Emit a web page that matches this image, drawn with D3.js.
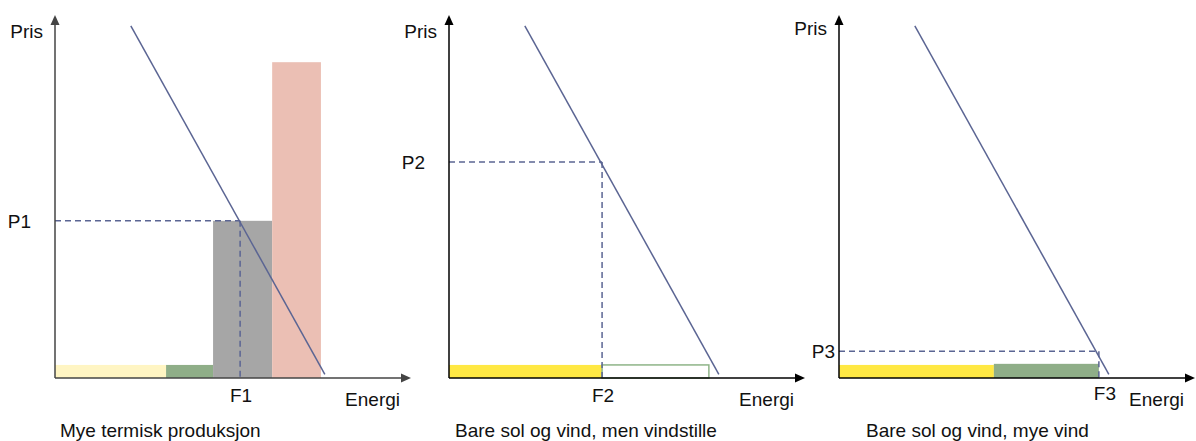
<!DOCTYPE html>
<html lang="no">
<head>
<meta charset="utf-8">
<title>Pris og energi</title>
<script src="https://cdn.jsdelivr.net/npm/d3@7/dist/d3.min.js"></script>
<style>
  html, body { margin: 0; padding: 0; background: #fff; }
  svg { display: block; font-family: "Liberation Sans", Arial, sans-serif; }
  text { fill: #111; font-size: 19px; }
</style>
</head>
<body>
<svg id="chart" width="1196" height="441"></svg>
<script>
// Panel captions
const captions = [
  "Mye termisk produksjon",
  "Bare sol og vind, men vindstille",
  "Bare sol og vind, mye vind"
];
const priceLabels = ["P1", "P2", "P3"];
const quantityLabels = ["F1", "F2", "F3"];

// Demand curve (energy, price), same in every panel
const demandEnergy = [21.3, 75.8];
const demandPrice = [97, 1];

// Supply blocks per panel: [source, capacity, marginal cost]
const supplyThermal = [["sol-svak", 31.2, 3.6], ["vind", 13.2, 3.6], ["termisk", 16.6, 43.3], ["kull", 13.7, 87]];
const supplyCalm = [["sol", 43.0, 3.6], ["vind-stille", 30.0, 3.6]];
const supplyWindy = [["sol", 43.5, 3.6], ["vind", 29.5, 3.9]];

// Market equilibrium per panel
const eqEnergy = [52, 43, 73];
const eqPrice = [43.3, 59.5, 7.4];

const supplies = [supplyThermal, supplyCalm, supplyWindy];

const fillColor = {
  "sol-svak": "#FFF5C3",
  "sol": "#FFE843",
  "vind": "#8FAE88",
  "vind-stille": "#FFFFFF",
  "termisk": "#A6A6A6",
  "kull": "#EBBFB4"
};
const strokeColor = { "vind-stille": "#8FB488" };

const svg = d3.select("#chart");
const panelLeft = [55, 449, 839];
const axisColor = ["#444", "#000", "#000"];
const axisLen = 356, yBase = 378, yTop = 15;
const lineColor = "#5B6593";

captions.forEach((cap, i) => {
  const x0 = panelLeft[i];
  const x = d3.scaleLinear().domain([0, 100]).range([x0, x0 + axisLen]);
  const y = d3.scaleLinear().domain([0, 100]).range([yBase, yTop]);
  const g = svg.append("g");

  // supply blocks stacked along the energy axis
  let acc = 0;
  const blocks = supplies[i].map(([src, cap, cost]) => {
    const b = { src, start: acc, end: acc + cap, cost };
    acc += cap;
    return b;
  });
  g.selectAll("rect.block").data(blocks).join("rect")
    .attr("class", "block")
    .attr("x", d => x(d.start))
    .attr("width", d => x(d.end) - x(d.start))
    .attr("y", d => y(d.cost))
    .attr("height", d => y(0) - y(d.cost))
    .attr("fill", d => fillColor[d.src])
    .attr("stroke", d => strokeColor[d.src] || "none")
    .attr("stroke-width", 1.5);

  // equilibrium guides
  g.append("line")
    .attr("x1", x(0)).attr("x2", x(eqEnergy[i]))
    .attr("y1", y(eqPrice[i])).attr("y2", y(eqPrice[i]))
    .attr("stroke", lineColor).attr("stroke-width", 1.5)
    .attr("stroke-dasharray", "6,4");
  g.append("line")
    .attr("x1", x(eqEnergy[i])).attr("x2", x(eqEnergy[i]))
    .attr("y1", y(eqPrice[i])).attr("y2", y(0))
    .attr("stroke", lineColor).attr("stroke-width", 1.5)
    .attr("stroke-dasharray", "6,4");

  // demand curve
  const demandPts = demandEnergy.map((e, k) => [e, demandPrice[k]]);
  g.append("path")
    .attr("d", d3.line().x(d => x(d[0])).y(d => y(d[1]))(demandPts))
    .attr("fill", "none").attr("stroke", lineColor).attr("stroke-width", 1.5);

  // axes with arrowheads
  const col = axisColor[i];
  g.append("line")
    .attr("x1", x(0)).attr("x2", x(100) - 8)
    .attr("y1", y(0)).attr("y2", y(0))
    .attr("stroke", col).attr("stroke-width", 1.5);
  g.append("line")
    .attr("x1", x(0)).attr("x2", x(0))
    .attr("y1", y(0)).attr("y2", y(100) + 8)
    .attr("stroke", col).attr("stroke-width", 1.5);
  g.append("path")
    .attr("d", `M${x(100)},${y(0)} L${x(100) - 10},${y(0) - 4.5} L${x(100) - 10},${y(0) + 4.5} Z`)
    .attr("fill", col);
  g.append("path")
    .attr("d", `M${x(0)},${y(100)} L${x(0) - 4.5},${y(100) + 10} L${x(0) + 4.5},${y(100) + 10} Z`)
    .attr("fill", col);

  // labels
  g.append("text").attr("x", x(0) - 12).attr("y", i === 2 ? 35 : 38)
    .attr("text-anchor", "end").text("Pris");
  g.append("text").attr("x", x(0) - 24).attr("y", y(eqPrice[i]) + 7)
    .attr("text-anchor", "end")
    .attr("dx", i === 2 ? 20 : 0)
    .text(priceLabels[i]);
  g.append("text").attr("x", x(eqEnergy[i]) + (i === 2 ? 6 : 1)).attr("y", i === 2 ? 400 : 402)
    .attr("text-anchor", "middle").text(quantityLabels[i]);
  g.append("text").attr("x", x(100) - 11).attr("y", 406)
    .attr("text-anchor", "end").text("Energi");
  g.append("text").attr("x", x0 + 5 + (i === 0 ? 0 : 1) + (i === 2 ? 21 : 0)).attr("y", 437)
    .text(cap);
});
</script>
</body>
</html>
